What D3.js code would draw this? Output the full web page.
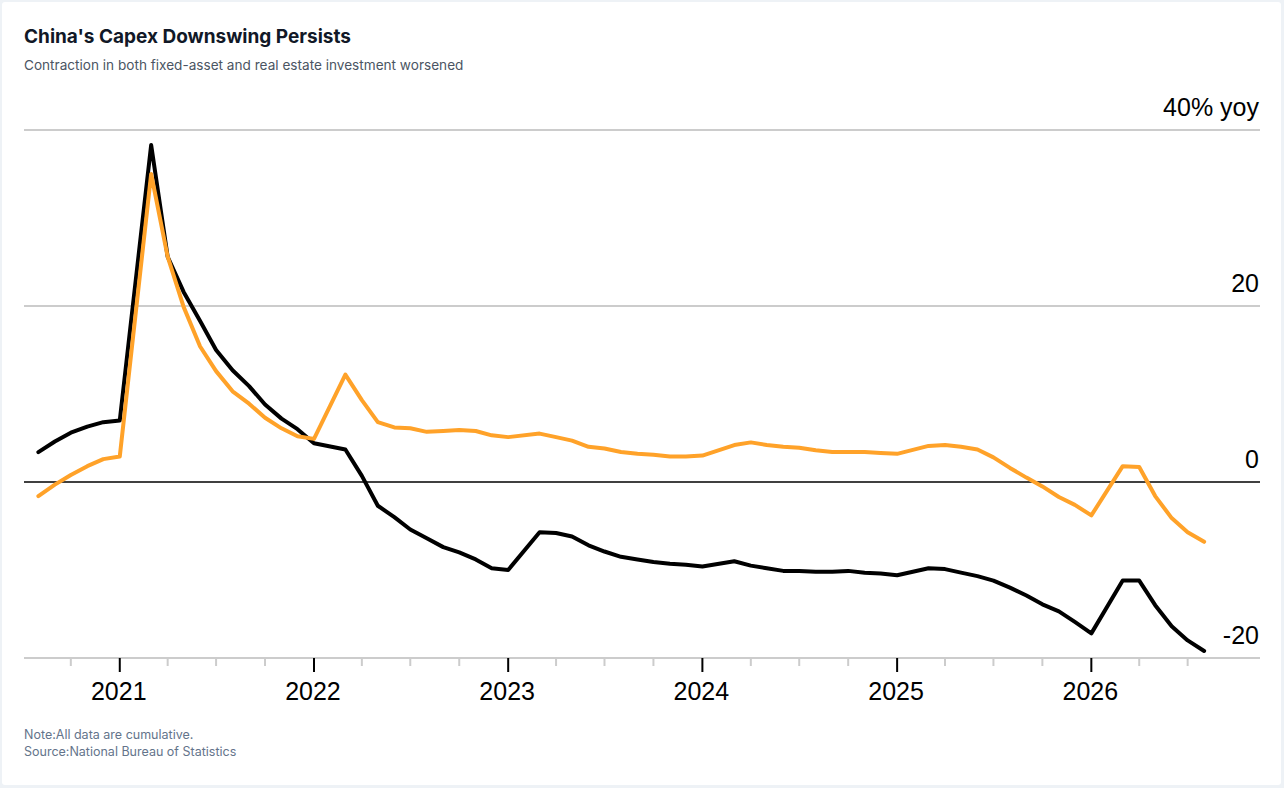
<!DOCTYPE html>
<html>
<head>
<meta charset="utf-8">
<script src="https://cdn.jsdelivr.net/npm/d3@7"></script>
<style>
  html, body { margin: 0; padding: 0; background: #eef2f6; }
  svg { display: block; }
</style>
</head>
<body>
<svg id="chart"></svg>
<script>
// China FAI vs real estate investment, cumulative yoy %
// Each period is a reporting month (January is folded into Jan-Feb), drawn at the end of that month.

const periods = [
  "2020-07","2020-08","2020-09","2020-10","2020-11","2020-12",
  "2021-02","2021-03","2021-04","2021-05","2021-06","2021-07","2021-08","2021-09","2021-10","2021-11","2021-12",
  "2022-02","2022-03","2022-04","2022-05","2022-06","2022-07","2022-08","2022-09","2022-10","2022-11","2022-12",
  "2023-02","2023-03","2023-04","2023-05","2023-06","2023-07","2023-08","2023-09","2023-10","2023-11","2023-12",
  "2024-02","2024-03","2024-04","2024-05","2024-06","2024-07","2024-08","2024-09","2024-10","2024-11","2024-12",
  "2025-02","2025-03","2025-04","2025-05","2025-06","2025-07","2025-08","2025-09","2025-10","2025-11","2025-12",
  "2026-02","2026-03","2026-04","2026-05","2026-06","2026-07"
];

// fixed-asset investment (orange)
const fixedAsset = [
  -1.6, -0.3, 0.8, 1.8, 2.6, 2.9,
  35.0, 25.6, 19.9, 15.4, 12.6, 10.3, 8.9, 7.3, 6.1, 5.2, 4.9,
  12.2, 9.3, 6.8, 6.2, 6.1, 5.7, 5.8, 5.9, 5.8, 5.3, 5.1,
  5.5, 5.1, 4.7, 4.0, 3.8, 3.4, 3.2, 3.1, 2.9, 2.9, 3.0,
  4.2, 4.5, 4.2, 4.0, 3.9, 3.6, 3.4, 3.4, 3.4, 3.3, 3.2,
  4.1, 4.2, 4.0, 3.7, 2.8, 1.6, 0.5, -0.5, -1.7, -2.6, -3.8,
  1.8, 1.7, -1.6, -4.1, -5.7, -6.8
];

// real estate investment (black)
const realEstate = [
  3.4, 4.6, 5.6, 6.3, 6.8, 7.0,
  38.3, 25.6, 21.6, 18.3, 15.0, 12.7, 10.9, 8.8, 7.2, 6.0, 4.4,
  3.7, 0.7, -2.7, -4.0, -5.4, -6.4, -7.4, -8.0, -8.8, -9.8, -10.0,
  -5.7, -5.8, -6.2, -7.2, -7.9, -8.5, -8.8, -9.1, -9.3, -9.4, -9.6,
  -9.0, -9.5, -9.8, -10.1, -10.1, -10.2, -10.2, -10.1, -10.3, -10.4, -10.6,
  -9.8, -9.9, -10.3, -10.7, -11.2, -12.0, -12.9, -13.9, -14.7, -15.9, -17.2,
  -11.2, -11.2, -14.0, -16.4, -18.0, -19.2
];

const yTicks = [-20, 0, 20, 40];
const yTickLabels = ["-20", "0", "20", "40% yoy"];

const W = 1284, H = 788;
const plot = {left: 24, right: 1260, top: 130, bottom: 658};

const parseMonth = d3.timeParse("%Y-%m");
const dates = periods.map(p => d3.timeMonth.offset(parseMonth(p), 1));

const svg = d3.select("#chart").attr("width", W).attr("height", H);

// card
svg.append("rect")
    .attr("x", 2).attr("y", 2)
    .attr("width", W - 5).attr("height", H - 5)
    .attr("rx", 3)
    .attr("fill", "#fff");

const x = d3.scaleTime()
    .domain([new Date(2020, 6, 5), new Date(2026, 10, 14)])
    .range([plot.left, plot.right]);

const y = d3.scaleLinear()
    .domain([-20, 40])
    .range([plot.bottom, plot.top]);

// title block
svg.append("text")
    .attr("x", 24).attr("y", 43)
    .attr("fill", "#111827")
    .style("font-family", "Inter, 'Noto Sans', sans-serif")
    .style("font-weight", "700")
    .style("font-size", "19px")
    .text("China's Capex Downswing Persists");

svg.append("text")
    .attr("x", 24).attr("y", 70)
    .attr("fill", "#4b5563")
    .style("font-family", "Inter, 'Noto Sans', sans-serif")
    .style("font-size", "13.6px")
    .text("Contraction in both fixed-asset and real estate investment worsened");

// horizontal grid + y labels
const grid = svg.append("g").attr("class", "y-grid");
grid.selectAll("line")
    .data(yTicks)
    .enter().append("line")
    .attr("x1", plot.left).attr("x2", plot.right)
    .attr("y1", d => y(d)).attr("y2", d => y(d))
    .attr("stroke", d => d === 0 ? "#000" : "#cccccc")
    .attr("stroke-width", d => d === 0 ? 1.5 : 2);

grid.selectAll("text")
    .data(yTicks)
    .enter().append("text")
    .attr("x", plot.right - 1)
    .attr("y", d => y(d) - 14)
    .attr("text-anchor", "end")
    .attr("fill", "#000")
    .style("font-family", "'Liberation Sans', Arial, sans-serif")
    .style("font-size", "25px")
    .text((d, i) => yTickLabels[i]);

// x axis ticks: quarterly, years marked in black
const lastDate = dates[dates.length - 1];
const xTicks = d3.timeMonth.every(3).range(x.domain()[0], d3.timeDay.offset(lastDate, 1));
const isYear = d => d.getMonth() === 0;

const xAxis = svg.append("g").attr("class", "x-axis");
xAxis.selectAll("line.tick")
    .data(xTicks)
    .enter().append("line")
    .attr("class", "tick")
    .attr("x1", d => x(d)).attr("x2", d => x(d))
    .attr("y1", y(-20))
    .attr("y2", d => y(-20) + (isYear(d) ? 14 : 8))
    .attr("stroke", d => isYear(d) ? "#000" : "#cccccc")
    .attr("stroke-width", 2);

xAxis.selectAll("text")
    .data(xTicks.filter(isYear))
    .enter().append("text")
    .attr("x", d => x(d) - 1)
    .attr("y", 700)
    .attr("text-anchor", "middle")
    .attr("fill", "#000")
    .style("font-family", "'Liberation Sans', Arial, sans-serif")
    .style("font-size", "25px")
    .text(d => d3.timeFormat("%Y")(d));

// lines
const line = d3.line()
    .x(d => x(d.date))
    .y(d => y(d.value));

const series = [
  {name: "realEstate", color: "#000000", values: realEstate},
  {name: "fixedAsset", color: "#ffa229", values: fixedAsset}
];

series.forEach(s => {
    svg.append("path")
        .datum(s.values.map((v, i) => ({date: dates[i], value: v})))
        .attr("class", `line-${s.name}`)
        .attr("fill", "none")
        .attr("stroke", s.color)
        .attr("stroke-width", 4)
        .attr("stroke-linejoin", "round")
        .attr("stroke-linecap", "round")
        .attr("d", line);
});

// notes
const notes = ["Note:All data are cumulative.", "Source:National Bureau of Statistics"];
svg.append("g").selectAll("text")
    .data(notes)
    .enter().append("text")
    .attr("x", 24)
    .attr("y", (d, i) => 739 + i * 17)
    .attr("fill", "#64748b")
    .style("font-family", "Inter, 'Noto Sans', sans-serif")
    .style("font-size", "12.5px")
    .text(d => d);
</script>
</body>
</html>
